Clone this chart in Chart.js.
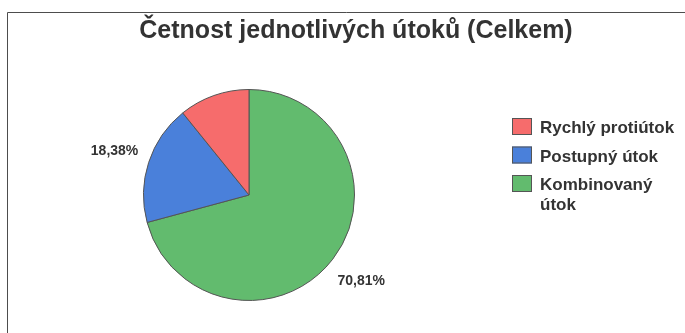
<!DOCTYPE html>
<html lang="cs">
<head>
<meta charset="utf-8">
<title>Četnost jednotlivých útoků</title>
<script src="https://cdn.jsdelivr.net/npm/chart.js@4/dist/chart.umd.min.js"></script>
<style>
    html, body { margin: 0; padding: 0; background: #fff; }
    #graf { display: block; }
</style>
</head>
<body>
<canvas id="graf" width="685" height="333"></canvas>
<script>
// Data grafu (pořadí jako v legendě)
const nadpis = 'Četnost jednotlivých útoků (Celkem)';
const kategorie = ['Rychlý protiútok', 'Postupný útok', ['Kombinovaný', 'útok']];
const podily = [10.81, 18.38, 70.81];
const barvy = ['#f66c6c', '#4a80da', '#62bb6e'];
// Které výseče mají popisek s procenty
const popisky = [false, true, true];

// Formátování procent s desetinnou čárkou
const formatarProcenta = (hodnota) => hodnota.toFixed(2).replace('.', ',') + '%';

// Koláč se kreslí po směru hodinových ručiček, proto obrácené pořadí
const poradi = kategorie.map((_, i) => i).reverse();

// Rámeček, nadpis, legenda a popisky výsečí
const doplnky = {
    id: 'doplnky',
    beforeDraw(chart) {
        const ctx = chart.ctx;
        ctx.save();
        ctx.fillStyle = '#fff';
        ctx.fillRect(0, 0, chart.width, chart.height);
        ctx.strokeStyle = '#4d4d4d';
        ctx.lineWidth = 1;
        ctx.beginPath();
        ctx.moveTo(7.5, chart.height + 5);
        ctx.lineTo(7.5, 12.5);
        ctx.lineTo(chart.width + 5, 12.5);
        ctx.stroke();

        ctx.fillStyle = '#333';
        ctx.font = 'bold 25px "Liberation Sans", Arial, sans-serif';
        ctx.textAlign = 'center';
        ctx.textBaseline = 'middle';
        ctx.fillText(nadpis, 356, 31);
        ctx.restore();
    },
    afterDraw(chart) {
        const ctx = chart.ctx;
        const meta = chart.getDatasetMeta(0);
        ctx.save();

        // Popisky s procenty vně koláče
        ctx.font = 'bold 14px "Liberation Sans", Arial, sans-serif';
        ctx.fillStyle = '#333';
        ctx.textAlign = 'center';
        ctx.textBaseline = 'middle';
        meta.data.forEach((oblouk, j) => {
            const i = poradi[j];
            if (!popisky[i]) return;
            const p = oblouk.getProps(['x', 'y', 'startAngle', 'endAngle', 'outerRadius'], true);
            const stred = (p.startAngle + p.endAngle) / 2;
            const r = p.outerRadius * 1.34;
            ctx.fillText(formatarProcenta(podily[i]), p.x + Math.cos(stred) * r, p.y + Math.sin(stred) * r);
        });

        // Legenda vpravo
        ctx.font = 'bold 17px "Liberation Sans", Arial, sans-serif';
        ctx.textAlign = 'left';
        ctx.textBaseline = 'alphabetic';
        let y = 118;
        kategorie.forEach((text, i) => {
            ctx.fillStyle = barvy[i];
            ctx.fillRect(512, y, 20, 17);
            ctx.strokeStyle = '#555';
            ctx.lineWidth = 1;
            ctx.strokeRect(512.5, y + 0.5, 19, 16);
            ctx.fillStyle = '#333';
            const radky = Array.isArray(text) ? text : [text];
            radky.forEach((radek, k) => {
                ctx.fillText(radek, 540, y + 15 + k * 20);
            });
            y += 28.5;
        });
        ctx.restore();
    }
};

const ctx = document.getElementById('graf').getContext('2d');
window.grafUtoku = new Chart(ctx, {
    type: 'pie',
    data: {
        labels: poradi.map(i => kategorie[i]),
        datasets: [{
            data: poradi.map(i => podily[i]),
            backgroundColor: poradi.map(i => barvy[i]),
            borderColor: '#555',
            borderWidth: 1
        }]
    },
    options: {
        responsive: false,
        animation: false,
        devicePixelRatio: 1,
        layout: {
            padding: { left: 143, right: 330, top: 89, bottom: 32 }
        },
        plugins: {
            legend: { display: false },
            title: { display: false },
            tooltip: {
                callbacks: {
                    label: (context) => formatarProcenta(context.raw)
                }
            }
        }
    },
    plugins: [doplnky]
});
</script>
</body>
</html>
